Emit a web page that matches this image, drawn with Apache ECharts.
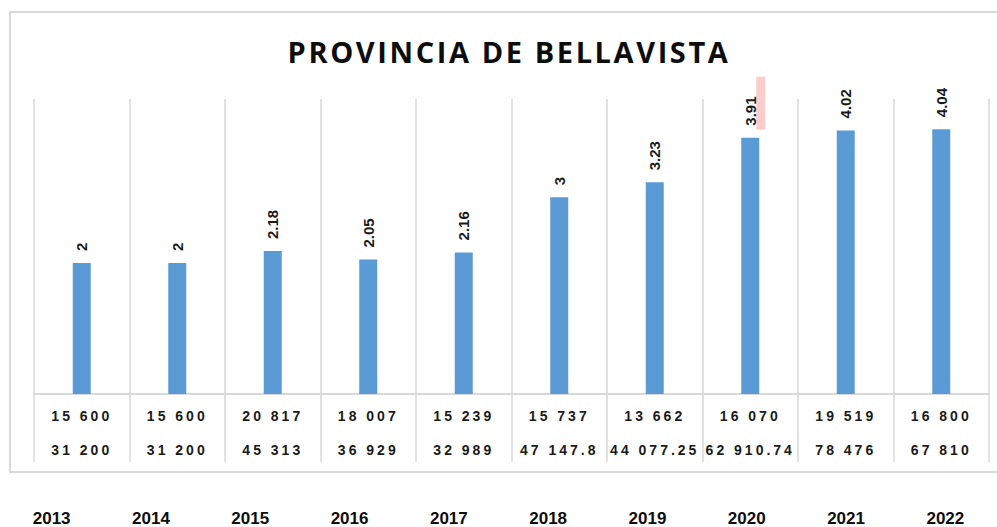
<!DOCTYPE html>
<html><head><meta charset="utf-8">
<script src="https://cdn.jsdelivr.net/npm/echarts@6/dist/echarts.min.js"></script>
<style>html,body{margin:0;padding:0;background:#fff}#c{width:997px;height:527px}</style>
</head><body><div id="c"></div>
<script>
var years = ['2013','2014','2015','2016','2017','2018','2019','2020','2021','2022'];
var ratios = [2, 2, 2.18, 2.05, 2.16, 3, 3.23, 3.91, 4.02, 4.04];
var row1 = ['15 600','15 600','20 817','18 007','15 239','15 737','13 662','16 070','19 519','16 800'];
var row2 = ['31 200','31 200','45 313','36 929','32 989','47 147.8','44 077.25','62 910.74','78 476','67 810'];
var titleText = 'PROVINCIA DE BELLAVISTA';

var chart = echarts.init(document.getElementById('c'), null, {renderer: 'svg'});
var gridColor = '#d9d9d9';
chart.setOption({
  animation: false,
  backgroundColor: '#fff',
  title: {
    text: titleText, left: 504, textAlign: 'center', top: 32,
    textStyle: {fontFamily: 'Open Sans', fontWeight: 'bold', fontSize: 29, color: '#0d0d0d'}
  },
  grid: [
    {left: 34, right: 8, top: 99, bottom: 133},
    {left: 2, width: 993, top: 490, height: 10}
  ],
  xAxis: [
    {
      type: 'category', gridIndex: 0, data: years,
      axisLine: {show: true, lineStyle: {color: gridColor, width: 2}},
      axisTick: {show: true, length: 68, lineStyle: {color: gridColor, width: 1.5}},
      splitLine: {show: true, lineStyle: {color: gridColor, width: 1.5}},
      axisLabel: {
        margin: 5, interval: 0,
        formatter: function (v, i) { return '{a|' + row1[i] + '}\n{a|' + row2[i] + '}'; },
        rich: {a: {fontFamily: 'Liberation Sans', fontWeight: 'bold', fontSize: 14, lineHeight: 34, color: '#1a1a1a'}}
      }
    },
    {
      type: 'category', gridIndex: 1, data: years,
      axisLine: {show: false}, axisTick: {show: false},
      axisLabel: {margin: 13, interval: 0, fontFamily: 'Liberation Sans', fontWeight: 'bold', fontSize: 17, color: '#0d0d0d'}
    }
  ],
  yAxis: [
    {type: 'value', gridIndex: 0, min: 0, max: 4.5, show: false, splitLine: {show: false}},
    {type: 'value', gridIndex: 1, show: false, splitLine: {show: false}}
  ],
  series: [{
    type: 'bar', xAxisIndex: 0, yAxisIndex: 0, data: ratios, barWidth: 18,
    itemStyle: {color: '#5b9bd5'},
    label: {
      show: true, position: 'top', rotate: 90, align: 'left', verticalAlign: 'middle', distance: 12,
      fontFamily: 'Liberation Sans', fontWeight: 'bold', fontSize: 15, color: '#1a1a1a'
    },
    z: 3
  }]
});

var p = chart.convertToPixel({xAxisIndex: 0, yAxisIndex: 0}, [7, ratios[7]]);
chart.setOption({
  graphic: [
    {type: 'rect', silent: true, z: -1, shape: {x: 10, y: 12, width: 1000, height: 460},
     style: {fill: 'none', stroke: '#d9d9d9', lineWidth: 2}},
    {type: 'rect', silent: true, z: 0, shape: {x: p[0] + 6, y: p[1] - 61, width: 9, height: 53},
     style: {fill: '#ffcccc'}}
  ]
});

function spaceOut() {
  document.querySelectorAll('#c svg text').forEach(function (t) {
    var s = t.textContent;
    if (s === titleText) { t.setAttribute('letter-spacing', '2.6'); }
    else if (row1.indexOf(s) >= 0 || row2.indexOf(s) >= 0) { t.setAttribute('letter-spacing', '3'); }
  });
}
spaceOut();
chart.on('finished', spaceOut);
</script></body></html>
